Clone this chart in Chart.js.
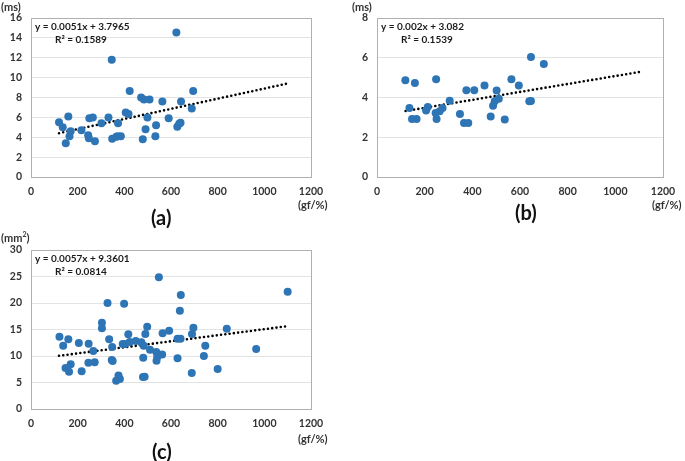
<!DOCTYPE html>
<html>
<head>
<meta charset="utf-8">
<script src="https://cdn.jsdelivr.net/npm/chart.js@4.4.1/dist/chart.umd.min.js"></script>
<style>
  body { margin: 0; background: #fff; width: 685px; height: 461px; position: relative; overflow: hidden; }
  canvas { position: absolute; }
  .lbl { position: absolute; font-family: Lato, sans-serif; font-weight: 700; color: #333; white-space: nowrap; }
  .unit { font-size: 11px; }
  .panel { font-size: 20px; color: #111; }
</style>
</head>
<body>
<canvas id="chart-a" width="340" height="230" style="left:0;top:0"></canvas>
<canvas id="chart-b" width="340" height="230" style="left:345px;top:0"></canvas>
<canvas id="chart-c" width="340" height="229" style="left:0;top:232px"></canvas>

<div class="lbl unit" style="left:1px;top:0px">(ms)</div>
<div class="lbl unit" style="left:298px;top:198px">(gf/%)</div>
<div class="lbl panel" style="left:151px;top:205px">(a)</div>

<div class="lbl unit" style="left:352px;top:0px">(ms)</div>
<div class="lbl unit" style="left:652px;top:198px">(gf/%)</div>
<div class="lbl panel" style="left:515px;top:200px">(b)</div>

<div class="lbl unit" style="left:1px;top:230px">(mm<sup style="font-size:7px">2</sup>)</div>
<div class="lbl unit" style="left:298px;top:432px">(gf/%)</div>
<div class="lbl panel" style="left:152px;top:439px">(c)</div>

<script>
// (a) response time vs stiffness
var xA = [120, 136, 160, 149, 165, 170, 216, 245, 248, 250, 265, 274, 302, 332, 346, 348, 373, 366, 385, 372,
          423, 406, 418, 472, 484, 508, 479, 491, 499, 536, 533, 563, 590, 623, 627, 635, 641, 643, 689, 695];
var yA = [5.5, 5.0, 6.1, 3.4, 4.1, 4.6, 4.7, 4.2, 3.9, 5.9, 6.0, 3.6, 5.4, 6.0, 11.8, 3.85, 5.4, 4.05, 4.1, 4.1,
          8.65, 6.5, 6.35, 8.0, 7.8, 7.8, 3.8, 4.8, 6.0, 5.2, 4.1, 7.6, 5.9, 14.55, 5.05, 5.35, 5.45, 7.6, 6.9, 8.65];
var trendXA = [120, 1100];
var trendYA = [4.41, 9.41];
var eqA = ['y = 0.0051x + 3.7965', 'R² = 0.1589'];

// (b)
var xB = [119, 136, 159, 147, 166, 206, 213, 246, 248, 250, 263, 275, 305, 348, 365, 383, 375, 408, 451, 477,
          487, 494, 502, 511, 536, 564, 595, 639, 646, 646, 700];
var yB = [4.87, 3.47, 4.73, 2.92, 2.92, 3.34, 3.52, 3.22, 4.92, 2.92, 3.31, 3.47, 3.84, 3.17, 2.72, 2.72, 4.36, 4.36, 4.6, 3.05,
          3.59, 3.81, 4.35, 3.94, 2.89, 4.92, 4.61, 3.81, 3.83, 6.04, 5.69];
var trendXB = [120, 1100];
var trendYB = [3.32, 5.28];
var eqB = ['y = 0.002x + 3.082', 'R² = 0.1539'];

// (c)
var xC = [122, 138, 160, 148, 163, 170, 205, 217, 247, 246, 267, 273, 304, 304, 328, 335, 348, 346, 350, 365,
          375, 381, 399, 393, 417, 403, 423, 449, 473, 480, 487, 481, 483, 490, 498, 510, 537, 538, 541, 548,
          564, 562, 592, 628, 628, 641, 638, 642, 689, 690, 696, 741, 747, 800, 839, 965, 1100];
var yC = [13.65, 11.95, 13.14, 7.74, 7.04, 8.43, 12.45, 7.1, 12.33, 8.74, 10.94, 8.8, 16.29, 15.22, 20.0, 13.14, 11.7, 9.25, 9.05, 5.35,
          6.3, 5.66, 19.87, 12.26, 14.1, 12.26, 12.64, 12.83, 12.58, 6.04, 6.1, 9.69, 11.95, 14.15, 15.53, 11.2, 10.75, 9.12, 9.81, 24.84,
          14.28, 10.3, 14.78, 9.56, 13.27, 13.27, 18.55, 21.5, 6.79, 14.15, 15.35, 10.0, 11.95, 7.55, 15.16, 11.3, 22.1];
var trendXC = [120, 1100];
var trendYC = [10.04, 15.63];
var eqC = ['y = 0.0057x + 9.3601', 'R² = 0.0814'];

var tickFont = { family: 'Lato, sans-serif', size: 10.5, weight: 'bold' };

var framePlugin = {
  id: 'frame',
  beforeDatasetsDraw: function(chart) {
    var a = chart.chartArea, c = chart.ctx;
    c.save();
    c.strokeStyle = '#b0b0b0';
    c.lineWidth = 1;
    c.strokeRect(Math.round(a.left) + 0.5, Math.round(a.top) + 0.5,
                 Math.round(a.right - a.left), Math.round(a.bottom - a.top));
    c.restore();
  }
};

var eqPlugin = {
  id: 'equation',
  afterDraw: function(chart, args, opts) {
    var a = chart.chartArea, c = chart.ctx;
    c.save();
    c.font = 'bold 10px Lato, sans-serif';
    c.fillStyle = '#1a1a1a';
    c.textBaseline = 'middle';
    c.fillText(opts.lines[0], a.left + 4, a.top + 9);
    c.fillText(opts.lines[1], a.left + 24, a.top + 22);
    c.restore();
  }
};

function makeChart(id, xs, ys, tx, ty, eq, ymax, ystep, pad) {
  var pts = xs.map(function(x, i) { return { x: x, y: ys[i] }; });
  var trend = tx.map(function(x, i) { return { x: x, y: ty[i] }; });
  return new Chart(document.getElementById(id).getContext('2d'), {
    type: 'scatter',
    data: {
      datasets: [{
        data: pts,
        backgroundColor: '#2e75b6',
        borderWidth: 0,
        pointRadius: 4
      }, {
        type: 'line',
        data: trend,
        borderColor: '#000',
        borderWidth: 2.6,
        borderDash: [0, 4.3],
        borderCapStyle: 'round',
        pointRadius: 0,
        fill: false
      }]
    },
    options: {
      responsive: false,
      animation: false,
      events: [],
      layout: { padding: { top: pad.top, right: pad.right, left: 0, bottom: 0 } },
      plugins: { legend: { display: false }, tooltip: { enabled: false }, equation: { lines: eq } },
      scales: {
        x: {
          type: 'linear', min: 0, max: 1200,
          ticks: { stepSize: 200, color: '#333', font: tickFont, padding: 8, maxRotation: 0,
                   callback: function(v) { return String(v); } },
          grid: { display: false, drawTicks: false },
          border: { display: false },
          afterFit: function(s) { s.height = pad.bottom; }
        },
        y: {
          min: 0, max: ymax,
          ticks: { stepSize: ystep, color: '#333', font: tickFont, padding: 9,
                   callback: function(v) { return String(v); } },
          grid: { color: '#e3e3e3', drawTicks: false },
          border: { display: false },
          afterFit: function(s) { s.width = pad.left; }
        }
      }
    },
    plugins: [framePlugin, eqPlugin]
  });
}

makeChart('chart-a', xA, yA, trendXA, trendYA, eqA, 16, 2, { top: 18, right: 29, bottom: 53, left: 31 });
makeChart('chart-b', xB, yB, trendXB, trendYB, eqB, 8, 2, { top: 18, right: 22, bottom: 53, left: 32 });
makeChart('chart-c', xC, yC, trendXC, trendYC, eqC, 30, 5, { top: 18, right: 29, bottom: 52, left: 31 });
</script>
</body>
</html>
